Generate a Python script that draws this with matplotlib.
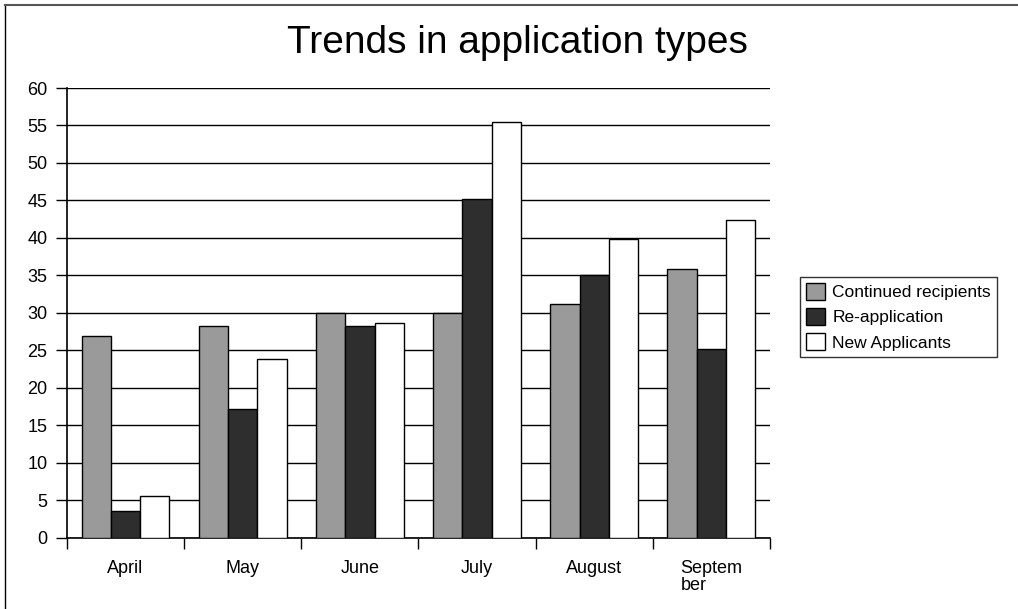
import numpy as np
import matplotlib.pyplot as plt
from matplotlib.lines import Line2D

months = ["April", "May", "June", "July", "August", "Septem\nber"]
continued = [26.9, 28.2, 30.0, 30.0, 31.2, 35.9]
reapplication = [3.6, 17.2, 28.2, 45.2, 35.1, 25.2]
new_applicants = [5.6, 23.9, 28.6, 55.4, 39.8, 42.4]

series = [
    ("Continued recipients", continued, "#9a9a9a"),
    ("Re-application", reapplication, "#2e2e2e"),
    ("New Applicants", new_applicants, "#ffffff"),
]

plt.rcParams['font.family'] = ['Liberation Sans', 'DejaVu Sans']

fig = plt.figure(figsize=(10.18, 6.09), dpi=100)
ax = fig.add_axes([0.0658, 0.1166, 0.6905, 0.7389])

x = np.arange(len(months))
width = 0.25
for i, (name, vals, color) in enumerate(series):
    ax.bar(x + (i - 1) * width, vals, width, color=color, edgecolor="black",
           linewidth=1.0, label=name, zorder=3)

ax.set_xlim(-0.5, len(months) - 0.5)
ax.set_ylim(0, 60)
ax.set_yticks(range(0, 61, 5))
ax.yaxis.grid(True, color="black", linewidth=1.0, zorder=0)
ax.tick_params(axis="y", labelsize=13, length=8, width=1, direction="out",
               pad=6)

ax.set_xticks(x)
ax.set_xticklabels(months, fontsize=13, linespacing=1.0,
                   multialignment="left")
ax.set_xticks(np.arange(-0.5, len(months)), minor=True)
ax.tick_params(axis="x", which="major", length=0, pad=16)
ax.tick_params(axis="x", which="minor", length=8, width=1, direction="out")

for side in ["top", "right"]:
    ax.spines[side].set_visible(False)
for side in ["left", "bottom"]:
    ax.spines[side].set_color("black")
    ax.spines[side].set_linewidth(1.2)

fig.text(0.508, 0.93, "Trends in application types", ha="center",
         va="center", fontsize=28)

leg = fig.legend(loc="upper left", bbox_to_anchor=(0.786, 0.545),
                 borderaxespad=0, fontsize=12.5, frameon=True,
                 fancybox=False, edgecolor="black", handlelength=1.1,
                 handleheight=1.1, handletextpad=0.4, borderpad=0.35,
                 labelspacing=0.45)
leg.get_frame().set_linewidth(1.0)

# chart frame edges along the left and top
fig.add_artist(Line2D([0.005, 0.005], [0.0, 0.992], color="black",
                      linewidth=1.0, transform=fig.transFigure))
fig.add_artist(Line2D([0.005, 1.0], [0.992, 0.992], color="#555555",
                      linewidth=1.5, transform=fig.transFigure))

fig.savefig("out.png", dpi=100)
